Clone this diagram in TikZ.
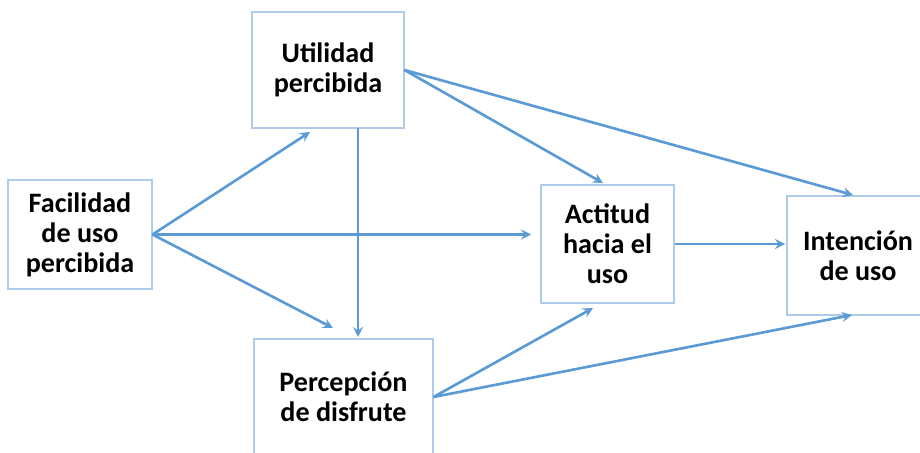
\documentclass[tikz,border=0pt]{standalone}
\usepackage{fontspec}
\setmainfont{Carlito}
\usetikzlibrary{arrows,positioning}
\definecolor{arrblue}{RGB}{91,155,213}
\definecolor{boxblue}{RGB}{172,204,234}

\begin{document}
\begin{tikzpicture}[x=0.02cm,y=-0.02cm,>=stealth,
    box/.style={draw=boxblue,line width=0.6pt,align=center,inner sep=0pt,
      font=\bfseries\fontsize{16}{17}\selectfont},
    link/.style={->,arrblue,line width=1.5pt}]
      \useasboundingbox (0,0) rectangle (920,453);

      \coordinate (F) at (80,234.5);
      \coordinate (U) at (328,70);
      \coordinate (P) at (343.5,397);
      \coordinate (A) at (607.5,244);
      \coordinate (I) at (858,255.5);

      \node[box,minimum width=2.88cm,minimum height=2.18cm] (fac) at (F) {Facilidad\\de uso\\percibida};
      \node[box,minimum width=3.04cm,minimum height=2.32cm] (util) at (U) {Utilidad\\percibida};
      \node[box,minimum width=3.58cm,minimum height=2.32cm] (perc) at (P) {Percepción\\de disfrute};
      \node[box,minimum width=2.84cm,minimum height=2.38cm] (int) at (I) {Intención\\de uso};
      \node[box,minimum width=2.66cm,minimum height=2.36cm] (act) at (A) {Actitud\\hacia el\\uso};

      % puntos de llegada de las flechas
      \coordinate (u1) at (310,132);
      \coordinate (u2) at (358,128);
      \coordinate (p1) at (333,328);
      \coordinate (p2) at (358,337);
      \coordinate (a1) at (531,234.5);
      \coordinate (a2) at (603,183);
      \coordinate (a3) at (593,308);
      \coordinate (i1) at (853,195);
      \coordinate (i2) at (785,244);
      \coordinate (i3) at (852,315);

      \draw[link] (fac.east) -- (u1);
      \draw[link] (fac.east) -- (a1);
      \draw[link] (fac.east) -- (p1);
      \draw[link] (u2) -- (p2);
      \draw[link] (util.east) -- (a2);
      \draw[link] (util.east) -- (i1);
      \draw[link] (act.east) -- (i2);
      \draw[link] (perc.east) -- (a3);
      \draw[link] (perc.east) -- (i3);

\end{tikzpicture}
\end{document}
